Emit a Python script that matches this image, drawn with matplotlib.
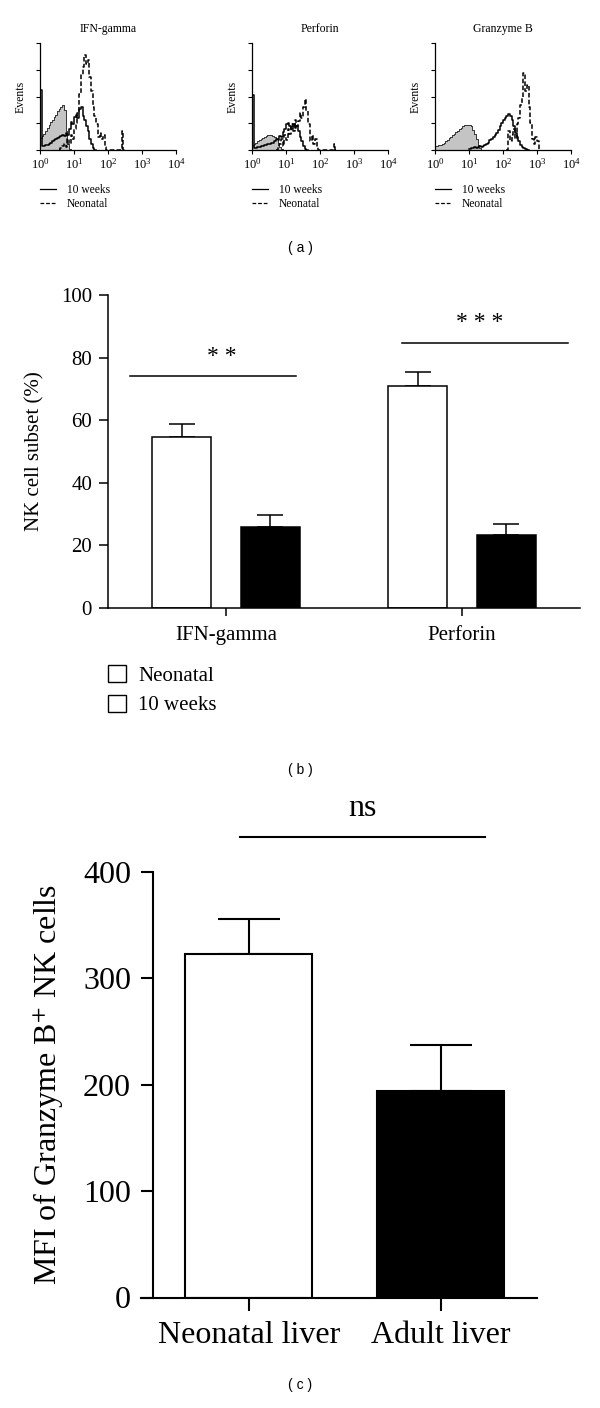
import numpy as np
import matplotlib
matplotlib.use('Agg')
import matplotlib.pyplot as plt
from matplotlib.patches import Patch
from matplotlib.lines import Line2D
from matplotlib.ticker import LogLocator, NullFormatter

plt.rcParams['font.family'] = ['Liberation Serif', 'DejaVu Serif']
plt.rcParams['mathtext.fontset'] = 'stix'

# =============================================================================
# Data
# =============================================================================

# (a) flow histograms: counts per 0.05-decade channel, first channel at log10 = start
BIN = 0.05
hist_titles = ['IFN-gamma', 'Perforin', 'Granzyme B']

iso_start = [0.0, 0.0, 0.0]
iso_counts = [
    [11, 13, 15, 18, 21, 23, 26, 28, 31, 33, 36, 38, 40, 42, 37, 18, 6, 1, 0],
    [5, 6, 7, 8, 9, 10, 11, 12, 13, 14, 14, 14, 13, 12, 10, 7, 3, 1, 0],
    [4, 4, 5, 5, 6, 7, 8, 9, 11, 12, 14, 15, 17, 18, 20, 21, 22, 23, 23, 23,
     23, 22, 19, 15, 10, 5, 2, 0],
]

wk10_start = [0.0, 0.0, 1.0]
wk10_counts = [
    [56, 4, 4, 5, 5, 6, 7, 8, 9, 10, 11, 12, 13, 14, 13, 16, 14, 20, 26, 24,
     31, 33, 30, 38, 40, 32, 28, 22, 18, 10, 6, 2, 0],
    [51, 2, 2, 3, 3, 4, 4, 5, 5, 6, 6, 7, 7, 8, 10, 9, 13, 12, 17, 20,
     24, 25, 22, 20, 24, 21, 22, 18, 12, 8, 4, 1, 0],
    [1, 2, 2, 3, 2, 3, 4, 3, 4, 5, 6, 7, 9, 10, 12, 14, 16, 19, 22, 25,
     28, 30, 32, 34, 32, 28, 22, 16, 12, 8, 5, 3, 2, 1, 0],
]

neo_start = [0.55, 0.7, 2.1]
neo_counts = [
    [0, 2, 4, 6, 3, 10, 6, 14, 10, 20, 25, 35, 52, 70, 78, 89, 80, 84, 68, 55,
     40, 32, 24, 12, 16, 10, 14, 3, 0, 0, 0, 0, 0, 0, 0, 0, 0, 18, 0],
    [0, 3, 6, 10, 4, 14, 9, 20, 15, 24, 18, 28, 22, 27, 35, 30, 40, 48, 36, 24,
     8, 14, 6, 10, 4, 0, 0, 0, 0, 0, 0, 0, 0, 0, 6, 0],
    [0, 18, 8, 14, 20, 10, 24, 30, 42, 50, 72, 55, 61, 40, 25, 10, 6, 12, 8, 0],
]

# (b) NK cell subsets (%)
groups_b = ['IFN-gamma', 'Perforin']
neo_pct = [54.5, 70.8]
neo_pct_err = [4.3, 4.5]
wk10_pct = [25.9, 23.3]
wk10_pct_err = [3.8, 3.5]
sig_b = ['* *', '* * *']
sig_b_y = [74.0, 84.7]

# (c) MFI of Granzyme B+ NK cells
groups_c = ['Neonatal liver', 'Adult liver']
mfi = [323, 194]
mfi_err = [33, 43]
sig_c_y = 433

# =============================================================================
# Figure
# =============================================================================

fig = plt.figure(figsize=(6, 14.08), dpi=100)
H = 1408.0


def fy(px):
    return 1 - px / H


def step_xy(start, counts):
    edges = 10 ** (start + BIN * np.arange(len(counts) + 1))
    return edges, np.append(counts, counts[-1])


# ---- (a) ----
dash = (0, (3, 1.5))
lefts_a = [40, 252, 435]
for i, left in enumerate(lefts_a):
    ax = fig.add_axes([left / 600, fy(150), 136 / 600, 107 / H])
    xs, ys = step_xy(iso_start[i], iso_counts[i])
    ax.fill_between(xs, ys, step='post', color='#c4c4c4', lw=0, zorder=1)
    ax.plot(xs, ys, drawstyle='steps-post', color='#333333', lw=0.7, zorder=2)
    xs, ys = step_xy(wk10_start[i], wk10_counts[i])
    ax.plot(xs, ys, drawstyle='steps-post', color='black', lw=1.1, zorder=3)
    xs, ys = step_xy(neo_start[i], neo_counts[i])
    ax.plot(xs, ys, drawstyle='steps-post', color='black', lw=1.1,
            linestyle=dash, zorder=4)

    ax.set_xscale('log')
    ax.set_xlim(1, 1e4)
    ax.set_ylim(0, 100)
    ax.set_xticks([1, 10, 100, 1000, 10000])
    ax.xaxis.set_minor_locator(LogLocator(base=10, subs=np.arange(2, 10)))
    ax.xaxis.set_minor_formatter(NullFormatter())
    ax.set_yticks([0, 25, 50, 75, 100])
    ax.set_yticklabels([])
    for s in ['top', 'right']:
        ax.spines[s].set_visible(False)
    for s in ['left', 'bottom']:
        ax.spines[s].set_linewidth(0.9)
    ax.tick_params(axis='x', which='major', length=3, width=0.8, labelsize=9, pad=2)
    ax.tick_params(axis='x', which='minor', length=1.8, width=0.6)
    ax.tick_params(axis='y', length=3, width=0.8)
    ax.set_title(hist_titles[i], fontsize=8.5, pad=8)
    ax.set_ylabel('Events', fontsize=8.5, labelpad=3)

    handles = [Line2D([], [], color='black', lw=0.9),
               Line2D([], [], color='black', lw=0.9, linestyle=dash)]
    fig.legend(handles, ['10 weeks', 'Neonatal'], loc='upper left',
               bbox_to_anchor=(left / 600, fy(184)), frameon=False, fontsize=8.3,
               handlelength=1.35, handletextpad=1.0, labelspacing=0.15,
               borderpad=0, borderaxespad=0)

fig.text(0.5, fy(248), '( a )', ha='center', va='center', fontsize=10,
         family='Liberation Sans')

# ---- (b) ----
axb = fig.add_axes([108 / 600, fy(608), 472 / 600, 313 / H])
xb = np.arange(len(groups_b))
off = 0.187
w = 0.25
axb.bar(xb - off, neo_pct, w, color='white', edgecolor='black', lw=1.1, zorder=2)
axb.bar(xb + off, wk10_pct, w, color='black', edgecolor='black', lw=1.1, zorder=2)
axb.errorbar(xb - off, neo_pct, yerr=[np.zeros(2), neo_pct_err], fmt='none',
             ecolor='black', elinewidth=1.1, capsize=9.5, capthick=1.1, zorder=1)
axb.errorbar(xb + off, wk10_pct, yerr=[np.zeros(2), wk10_pct_err], fmt='none',
             ecolor='black', elinewidth=1.1, capsize=9.5, capthick=1.1, zorder=1)
sig_b_x = [(-0.407, 0.297), (0.746, 1.449)]
sig_b_tx = [-0.017, 1.076]
for (x0, x1), tx, yy, txt in zip(sig_b_x, sig_b_tx, sig_b_y, sig_b):
    axb.plot([x0, x1], [yy, yy], color='black', lw=1.1)
    axb.text(tx, yy + 6.5, txt, ha='center', va='center', fontsize=17)
axb.set_xlim(-0.5, 1.5)
axb.set_ylim(0, 100)
axb.set_xticks(xb)
axb.set_xticklabels(groups_b, fontsize=15)
axb.set_yticks(np.arange(0, 101, 20))
axb.tick_params(axis='y', labelsize=15, length=6.5, width=1.1, pad=5)
axb.tick_params(axis='x', length=6, width=1.1, pad=7)
for s in ['top', 'right']:
    axb.spines[s].set_visible(False)
for s in ['left', 'bottom']:
    axb.spines[s].set_linewidth(1.1)
axb.set_ylabel('NK cell subset (%)', fontsize=15, labelpad=12)

leg_handles = [Patch(facecolor='white', edgecolor='black', lw=1.0),
               Patch(facecolor='white', edgecolor='black', lw=1.0)]
fig.legend(leg_handles, ['Neonatal', '10 weeks'], loc='upper left',
           bbox_to_anchor=(108 / 600, fy(665)), frameon=False, fontsize=15,
           handlelength=0.85, handleheight=0.85, handletextpad=0.6,
           labelspacing=0.45, borderpad=0, borderaxespad=0)

fig.text(0.5, fy(770), '( b )', ha='center', va='center', fontsize=10,
         family='Liberation Sans')

# ---- (c) ----
axc = fig.add_axes([141 / 600, fy(1297.5), 396 / 600, 425.5 / H])
xc = np.arange(len(groups_c))
wc = 0.66
axc.bar(xc, mfi, wc, color=['white', 'black'], edgecolor='black', lw=1.5, zorder=2)
axc.errorbar(xc, mfi, yerr=[np.zeros(2), mfi_err], fmt='none', ecolor='black',
             elinewidth=1.5, capsize=22, capthick=1.5, zorder=1)
axc.plot([-0.044, 1.227], [sig_c_y, sig_c_y], color='black', lw=1.5, clip_on=False)
axc.text(0.59, sig_c_y + 27, 'ns', ha='center', va='center', fontsize=23)
axc.set_xlim(-0.56, 1.5)
axc.set_ylim(0, 400)
axc.spines['left'].set_position(('data', -0.5))
axc.set_xticks(xc)
axc.set_xticklabels(groups_c, fontsize=23)
axc.set_yticks(np.arange(0, 401, 100))
axc.tick_params(axis='y', labelsize=23, length=8.5, width=1.5, pad=7)
axc.tick_params(axis='x', length=9, width=1.5, pad=8)
for s in ['top', 'right']:
    axc.spines[s].set_visible(False)
for s in ['left', 'bottom']:
    axc.spines[s].set_linewidth(1.5)
axc.set_ylabel('MFI of Granzyme B$^{+}$ NK cells', fontsize=23, labelpad=12)

fig.text(0.5, fy(1385), '( c )', ha='center', va='center', fontsize=10,
         family='Liberation Sans')

fig.savefig('out.png', dpi=100)
